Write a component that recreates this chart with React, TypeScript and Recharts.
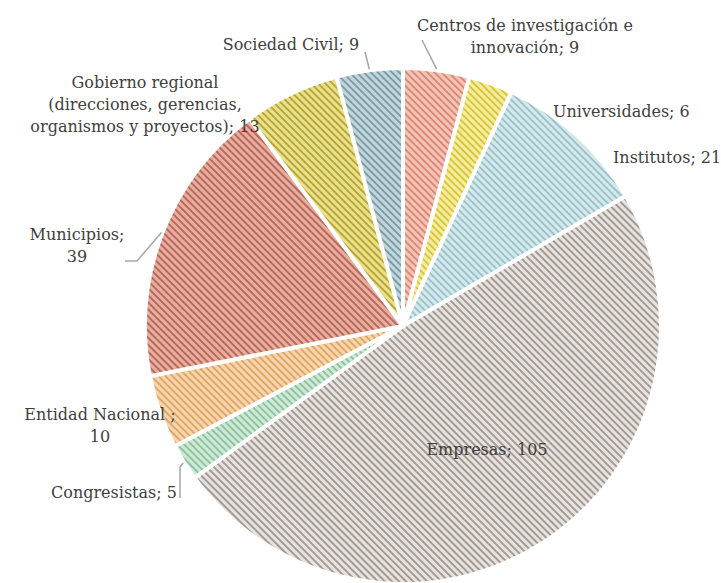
import { PieChart, Pie, Cell } from 'recharts'

const categories = [
  'Centros de investigación e innovación',
  'Universidades',
  'Institutos',
  'Empresas',
  'Congresistas',
  'Entidad Nacional',
  'Municipios',
  'Gobierno regional (direcciones, gerencias, organismos y proyectos)',
  'Sociedad Civil',
]

const values = [9, 6, 21, 105, 5, 10, 39, 13, 9]

// label text, broken into lines the way the original wraps them; the value is appended to the last line
const labelLines = [
  ['Centros de investigación e', 'innovación; '],
  ['Universidades; '],
  ['Institutos; '],
  ['Empresas; '],
  ['Congresistas; '],
  ['Entidad Nacional ;', ''],
  ['Municipios;', ''],
  ['Gobierno regional', '(direcciones, gerencias,', 'organismos y proyectos); '],
  ['Sociedad Civil; '],
]

const data = categories.map((name, i) => ({ name, value: values[i] }))

// hatch colours: light base, darker stripe
const fills = [
  { bg: '#f5c4b6', fg: '#d98a78' },
  { bg: '#f6ed9c', fg: '#d8c640' },
  { bg: '#d5e9eb', fg: '#9cc4cc' },
  { bg: '#e8e3df', fg: '#a39b96' },
  { bg: '#d0e9d7', fg: '#8fc4a0' },
  { bg: '#f7d6ae', fg: '#e0a868' },
  { bg: '#e8ae9f', fg: '#b86a5c' },
  { bg: '#eae18c', fg: '#b8a83a' },
  { bg: '#c2d6db', fg: '#7d9ea8' },
]

// label placement relative to the pie centre
const labelPos = [
  { dx: 122, dy: -295, anchor: 'middle', lead: [[19, -286]] },
  { dx: 150, dy: -209, anchor: 'start' },
  { dx: 210, dy: -163, anchor: 'start' },
  { dx: 84, dy: 129, anchor: 'middle' },
  { dx: -289, dy: 172, anchor: 'middle', lead: [[-223, 141], [-223, 172]] },
  { dx: -303, dy: 94, anchor: 'middle' },
  { dx: -326, dy: -86, anchor: 'middle', lead: [[-266, -65], [-278, -65]] },
  { dx: -258, dy: -238, anchor: 'middle' },
  { dx: -112, dy: -276, anchor: 'middle', lead: [[-38, -274]] },
]

const RAD = Math.PI / 180

const renderLabel = (props: any) => {
  const { cx, cy, midAngle, outerRadius, index, value } = props
  const pos = labelPos[index]
  const lines = labelLines[index]
  let lead = null
  if (pos.lead) {
    const sx = cx + (outerRadius + 1) * Math.cos(-midAngle * RAD)
    const sy = cy + (outerRadius + 1) * Math.sin(-midAngle * RAD)
    const pts = [[sx, sy], ...pos.lead.map(([x, y]) => [cx + x, cy + y])]
    lead = (
      <polyline
        points={pts.map((p) => p.join(',')).join(' ')}
        fill="none"
        stroke="#a6a6a6"
        strokeWidth={1.5}
      />
    )
  }
  return (
    <g key={`label-${index}`}>
      {lead}
      <text
        x={cx + pos.dx}
        y={cy + pos.dy}
        textAnchor={pos.anchor}
        fill="#404040"
        fontSize={16}
        fontFamily="'DejaVu Serif', serif"
      >
        {lines.map((l, i) => (
          <tspan key={i} x={cx + pos.dx} dy={i === 0 ? 0 : 22}>
            {i === lines.length - 1 ? `${l}${value}` : l}
          </tspan>
        ))}
      </text>
    </g>
  )
}

export default function App() {
  return (
    <div style={{ position: 'absolute', left: 0, top: 0, background: '#fff' }}>
      <PieChart width={721} height={583}>
        <defs>
          {fills.map((f, i) => (
            <pattern
              key={i}
              id={`hatch-${i}`}
              width={5}
              height={5}
              patternUnits="userSpaceOnUse"
              patternTransform="rotate(-45)"
            >
              <rect width={5} height={5} fill={f.bg} />
              <rect width={2} height={5} fill={f.fg} />
            </pattern>
          ))}
        </defs>
        <Pie
          data={data}
          dataKey="value"
          nameKey="name"
          cx={398}
          cy={321}
          outerRadius={258}
          startAngle={90}
          endAngle={-270}
          stroke="#fff"
          strokeWidth={4}
          label={renderLabel}
          labelLine={false}
          isAnimationActive={false}
        >
          {data.map((_, i) => (
            <Cell key={`cell-${i}`} fill={`url(#hatch-${i})`} />
          ))}
        </Pie>
      </PieChart>
    </div>
  )
}
